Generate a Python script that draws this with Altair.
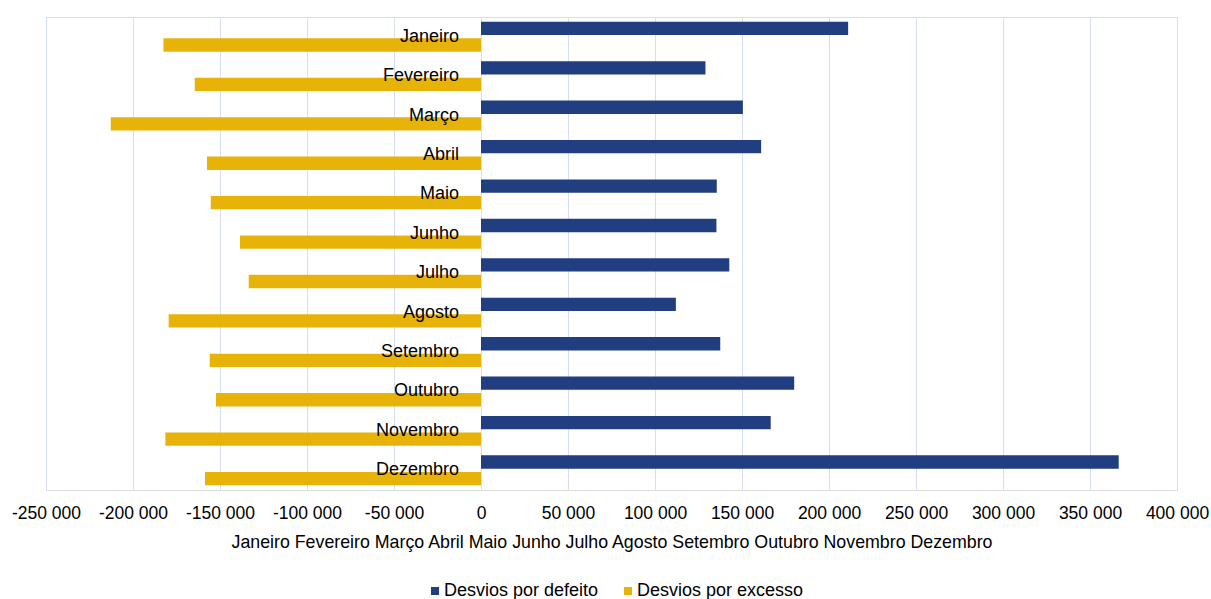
import altair as alt
import pandas as pd

months = ["Janeiro", "Fevereiro", "Março", "Abril", "Maio", "Junho",
          "Julho", "Agosto", "Setembro", "Outubro", "Novembro", "Dezembro"]
defeito = [211000, 129000, 150500, 161000, 135500, 135300,
           142700, 112000, 137500, 180000, 166500, 366500]
excesso = [-182500, -164500, -212800, -157500, -155300, -138500,
           -133500, -179500, -155900, -152300, -181400, -158600]
series = ["Desvios por defeito", "Desvios por excesso"]
colors = ["#203E80", "#E8B308"]
ticks = list(range(-250000, 400001, 50000))

rows = []
for m, d, e in zip(months, defeito, excesso):
    rows.append({"mes": m, "serie": series[0], "valor": d})
    rows.append({"mes": m, "serie": series[1], "valor": e})
df = pd.DataFrame(rows)
lab = pd.DataFrame({"mes": months, "zero": [0] * len(months)})

FONT = "Liberation Sans"
title = " ".join(months)

x_scale = alt.Scale(domain=[-250000, 400000], nice=False, zero=False)
y_scale = alt.Scale(domain=months, paddingInner=0.24, paddingOuter=0.12)

bars = alt.Chart(df).mark_bar().encode(
    x=alt.X("valor:Q", scale=x_scale,
            axis=alt.Axis(values=ticks, title=title, grid=True, gridColor="#D6DEF5",
                          gridWidth=1, domain=False, ticks=False, labelOverlap=False,
                          labelFlush=False,
                          labelExpr="replace(replace(format(datum.value, ','), ',', ' '), '−', '-')",
                          labelFont=FONT, labelFontSize=17.5, labelColor="#000000",
                          labelPadding=14, titleFont=FONT, titleFontSize=17.8,
                          titleFontWeight="normal", titleColor="#000000", titlePadding=12)),
    y=alt.Y("mes:N", scale=y_scale, axis=None),
    yOffset=alt.YOffset("serie:N", scale=alt.Scale(domain=series, paddingInner=0.2, paddingOuter=0)),
    color=alt.Color("serie:N", scale=alt.Scale(domain=series, range=colors),
                    legend=alt.Legend(title=None, orient="none", direction="horizontal",
                                      legendX=380, legendY=565, padding=0, symbolType="square",
                                      symbolSize=64, symbolStrokeWidth=0, labelLimit=0,
                                      labelFont=FONT, labelFontSize=18, labelColor="#000000",
                                      labelOffset=0, columnPadding=20)),
)

labels = alt.Chart(lab).mark_text(align="right", baseline="middle", dx=-22,
                                  font=FONT, fontSize=18, color="#000000").encode(
    x=alt.X("zero:Q", scale=x_scale),
    y=alt.Y("mes:N", scale=y_scale, axis=None),
    text="mes:N",
)

chart = alt.layer(bars, labels).properties(
    width=1131, height=473,
    autosize=alt.AutoSizeParams(type="none"),
    padding={"left": 46, "top": 17, "right": 34, "bottom": 109},
).configure_view(stroke=None).configure(background="white")

chart.save("out.html", embed_options={"renderer": "svg", "actions": False})
